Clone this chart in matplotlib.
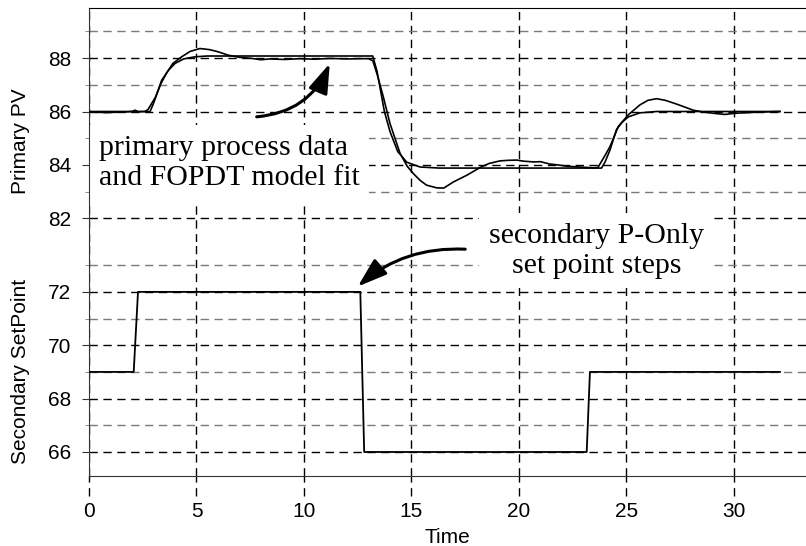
import matplotlib
matplotlib.use("Agg")
import matplotlib.pyplot as plt

# primary process data
t_pv = [0.0, 0.4, 0.8, 1.2, 1.6, 2.0, 2.14, 2.3, 2.6, 2.75, 3.1, 3.35, 3.6, 3.9,
        4.31, 4.7, 5.16, 5.6, 6.0, 6.48, 7.0, 7.57, 8.0, 8.4, 9.1, 9.8, 10.5,
        11.2, 12.0, 12.6, 13.0, 13.2, 13.4, 13.69, 14.0, 14.47, 14.8, 15.08,
        15.4, 15.7, 16.17, 16.5, 16.95, 17.57, 18.19, 18.6, 19.12, 19.5, 19.89,
        20.2, 20.67, 21.0, 21.44, 21.8, 22.22, 22.8, 23.46, 23.67, 24.0, 24.23,
        24.62, 25.09, 25.63, 26.0, 26.4, 26.8, 27.18, 27.6, 28.1, 28.5, 28.88,
        29.2, 29.58, 30.0, 30.43, 31.0, 31.67, 32.14]
pv = [85.98, 85.97, 85.96, 85.97, 85.98, 86.0, 86.05, 85.99, 86.0, 86.08,
      86.55, 87.05, 87.43, 87.8, 88.05, 88.25, 88.36, 88.32, 88.24, 88.11,
      88.03, 87.99, 87.94, 87.97, 87.95, 87.98, 87.96, 87.99, 87.97, 87.98,
      87.98, 87.9, 87.4, 86.55, 85.55, 84.43, 83.95, 83.68, 83.42, 83.24,
      83.14, 83.13, 83.36, 83.61, 83.9, 84.05, 84.15, 84.17, 84.18, 84.14,
      84.11, 84.12, 84.03, 84.0, 83.95, 83.92, 83.89, 83.9, 84.35, 84.68,
      85.44, 85.88, 86.25, 86.42, 86.48, 86.42, 86.32, 86.2, 86.05, 85.99,
      85.95, 85.92, 85.89, 85.93, 85.95, 85.97, 85.99, 86.0]

# FOPDT model fit
t_model = [0.0, 2.84, 3.0, 3.38, 3.7, 4.0, 4.4, 4.93, 5.5, 13.2, 13.4, 13.74,
           14.0, 14.36, 14.78, 15.4, 16.3, 23.84, 24.0, 24.23, 24.54, 24.8,
           25.09, 25.63, 26.4, 32.14]
model = [86.0, 86.0, 86.3, 87.17, 87.55, 87.8, 87.97, 88.05, 88.08, 88.08,
         87.5, 86.0, 85.25, 84.5, 84.1, 83.92, 83.88, 83.88, 84.1, 84.55,
         85.33, 85.6, 85.8, 85.95, 86.0, 86.0]

# secondary set point steps
t_sp = [0.0, 2.08, 2.28, 12.62, 12.8, 23.15, 23.3, 32.14]
sp = [69, 69, 72, 72, 66, 66, 69, 69]

top_major = [82, 84, 86, 88]
top_minor = [83, 85, 87, 89]
bot_major = [66, 68, 70, 72]
bot_minor = [67, 69, 71, 73]
x_ticks = [0, 5, 10, 15, 20, 25, 30]

sans = ["Liberation Sans", "DejaVu Sans"]
serif = ["Liberation Serif", "DejaVu Serif"]
dash = (0, (6, 4))

fig = plt.figure(figsize=(8.06, 5.46), dpi=100)
ax_top = fig.add_axes([0.1104, 0.5568, 0.8896, 0.4286])
ax_bot = fig.add_axes([0.1104, 0.1282, 0.8896, 0.4286])

for ax, major, minor in [(ax_top, top_major, top_minor), (ax_bot, bot_major, bot_minor)]:
    ax.set_xlim(0, 33.35)
    ax.set_xticks(x_ticks)
    ax.set_yticks(major)
    ax.set_yticks(minor, minor=True)
    ax.grid(which="major", axis="y", color="black", ls=dash, lw=1.0)
    ax.grid(which="minor", axis="y", color="#7a7a7a", ls=dash, lw=1.0)
    ax.grid(which="major", axis="x", color="black", ls=dash, lw=1.0)
    ax.spines["right"].set_visible(False)
    ax.spines["left"].set_color("#333333")
    ax.tick_params(axis="y", which="major", direction="out", length=5, pad=8,
                   labelsize=15, color="#333333")
    ax.tick_params(axis="y", which="minor", direction="out", length=3, color="#777777")
    for lab in ax.get_yticklabels():
        lab.set_family(sans)
    ax.set_axisbelow(True)

ax_top.set_ylim(81.11, 89.88)
ax_bot.set_ylim(65.1, 73.87)
ax_top.spines["bottom"].set_visible(False)
ax_bot.spines["top"].set_visible(False)
ax_bot.spines["bottom"].set_color("#333333")
ax_top.tick_params(axis="x", length=0, labelbottom=False)
ax_bot.tick_params(axis="x", length=0, pad=19, labelsize=15)
for lab in ax_bot.get_xticklabels():
    lab.set_family(sans)

# grid lines carry on a little below the time axis
for x in x_ticks:
    ax_bot.axvline(x, ymin=-0.085, ymax=0, color="black", ls=dash, lw=1.0, clip_on=False)

ax_top.plot(t_pv, pv, color="black", lw=1.2, zorder=4)
ax_top.plot(t_model, model, color="black", lw=1.2, zorder=4)
ax_bot.plot(t_sp, sp, color="black", lw=1.3, zorder=4)

ax_top.set_ylabel("Primary PV", fontsize=15, family=sans)
ax_top.yaxis.set_label_coords(-0.082, 0.43)
ax_bot.set_ylabel("Secondary SetPoint", fontsize=15, family=sans)
ax_bot.yaxis.set_label_coords(-0.082, 0.445)
ax_bot.set_xlabel("Time", fontsize=15, family=sans, labelpad=5)

# annotations
ax_top.text(0.45, 84.08, "primary process data\nand FOPDT model fit", fontsize=21.5,
            family=serif, ha="left", va="center", zorder=2.2,
            bbox=dict(fc="white", ec="none", pad=7))
ax_top.annotate("", xy=(11.2, 87.8), xytext=(7.8, 85.8),
                arrowprops=dict(arrowstyle="-|>,head_length=0.9,head_width=0.3",
                                connectionstyle="arc3,rad=0.3", color="black",
                                lw=2.2, mutation_scale=20, shrinkA=0, shrinkB=0))
ax_bot.text(23.6, 73.55, "secondary P-Only\nset point steps", fontsize=21.5,
            family=serif, ha="center", va="center", zorder=5, clip_on=False,
            bbox=dict(fc="white", ec="none", pad=7))
ax_bot.annotate("", xy=(12.5, 72.2), xytext=(17.5, 73.6),
                arrowprops=dict(arrowstyle="-|>,head_length=0.9,head_width=0.3",
                                connectionstyle="arc3,rad=0.2", color="black",
                                lw=2.2, mutation_scale=20, shrinkA=0, shrinkB=0))

fig.savefig("out.png", dpi=100)
